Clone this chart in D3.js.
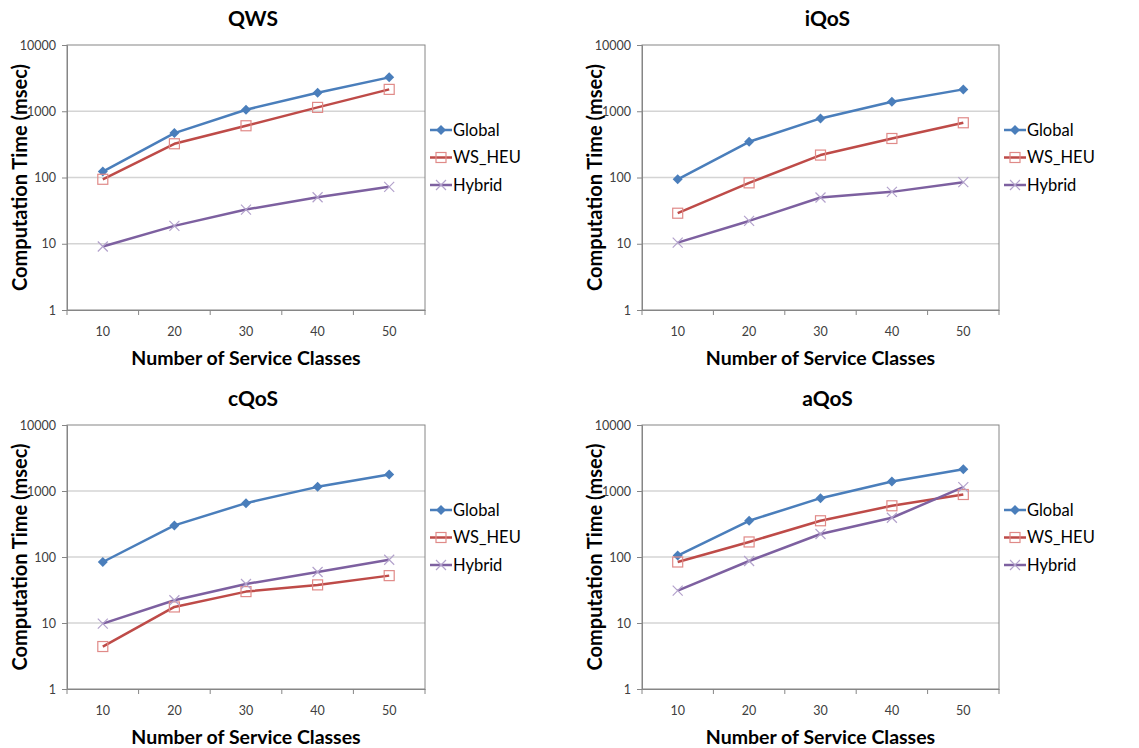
<!DOCTYPE html>
<html>
<head>
<meta charset="utf-8">
<script src="https://cdn.jsdelivr.net/npm/d3@7"></script>
<style>
  html, body { margin: 0; padding: 0; background: #fff; }
  svg { display: block; font-family: Lato, "Liberation Sans", sans-serif; }
</style>
</head>
<body>
<svg id="chart" width="1139" height="748"></svg>
<script>
// Computation time (msec) by number of service classes, four QoS datasets
const classes = ["10", "20", "30", "40", "50"];
const seriesNames = ["Global", "WS_HEU", "Hybrid"];
const datasetTitles = ["QWS", "iQoS", "cQoS", "aQoS"];
const yTicks = [1, 10, 100, 1000, 10000];

const qwsGlobal  = [123, 468, 1054, 1905, 3246];
const qwsWsHeu   = [94, 323, 604, 1143, 2138];
const qwsHybrid  = [9.1, 18.6, 32.8, 50.4, 72.3];

const iqosGlobal = [94, 346, 779, 1392, 2138];
const iqosWsHeu  = [28.9, 83, 218, 388, 670];
const iqosHybrid = [10.4, 22.1, 49.9, 60.7, 85];

const cqosGlobal = [84, 301, 655, 1156, 1775];
const cqosWsHeu  = [4.4, 17.5, 29.9, 37.8, 52.2];
const cqosHybrid = [9.8, 22.1, 39, 59.3, 91];

const aqosGlobal = [105, 354, 779, 1392, 2138];
const aqosWsHeu  = [84, 169, 354, 597, 885];
const aqosHybrid = [31, 87, 223, 393, 1143];

const datasets = [
  [qwsGlobal, qwsWsHeu, qwsHybrid],
  [iqosGlobal, iqosWsHeu, iqosHybrid],
  [cqosGlobal, cqosWsHeu, cqosHybrid],
  [aqosGlobal, aqosWsHeu, aqosHybrid]
];

const lineColors   = ["#4A7EBB", "#BE4B48", "#7D60A0"];
const markerColors = ["#4A7EBB", "#E08A88", "#B3A2CC"];

// plot-area rectangles for the 2x2 grid
const frames = [
  { x0: 67,  x1: 425, y0: 45,  y1: 310 },
  { x0: 642, x1: 999, y0: 45,  y1: 310 },
  { x0: 67,  x1: 425, y0: 425, y1: 689 },
  { x0: 642, x1: 999, y0: 425, y1: 689 }
];

const svg = d3.select("#chart");

function drawMarker(g, kind, cx, cy) {
  if (kind === 0) {
    g.append("path")
      .attr("d", `M${cx},${cy-5}L${cx+5},${cy}L${cx},${cy+5}L${cx-5},${cy}Z`)
      .attr("fill", markerColors[0]);
  } else if (kind === 1) {
    g.append("rect")
      .attr("x", cx - 5).attr("y", cy - 5)
      .attr("width", 10).attr("height", 10)
      .attr("fill", "none")
      .attr("stroke", markerColors[1]).attr("stroke-width", 1.2);
  } else {
    g.append("path")
      .attr("d", `M${cx-5},${cy-5}L${cx+5},${cy+5}M${cx-5},${cy+5}L${cx+5},${cy-5}`)
      .attr("stroke", markerColors[2]).attr("stroke-width", 1.2)
      .attr("fill", "none");
  }
}

datasets.forEach((series, i) => {
  const f = frames[i];
  const g = svg.append("g");

  const x = d3.scaleBand().domain(classes).range([f.x0, f.x1]);
  const y = d3.scaleLog().domain([1, 10000]).range([f.y1, f.y0]);

  // gridlines
  g.append("g").selectAll("line")
    .data(yTicks.filter(v => v > 1 && v < 10000))
    .join("line")
    .attr("x1", f.x0).attr("x2", f.x1)
    .attr("y1", d => y(d)).attr("y2", d => y(d))
    .attr("stroke", "#D4D4D4").attr("stroke-width", 1.5);

  // plot frame
  g.append("rect")
    .attr("x", f.x0).attr("y", f.y0)
    .attr("width", f.x1 - f.x0).attr("height", f.y1 - f.y0)
    .attr("fill", "none").attr("stroke", "#868686").attr("stroke-width", 1);

  // y axis
  const yAxis = g.append("g")
    .attr("transform", `translate(${f.x0},0)`)
    .call(d3.axisLeft(y).tickValues(yTicks).tickFormat(d3.format("d")).tickSize(5).tickPadding(6));
  yAxis.select(".domain").attr("stroke", "#868686");
  yAxis.selectAll(".tick line").attr("stroke", "#868686");
  yAxis.selectAll("text").attr("font-size", 12.5).attr("fill", "#404040")
    .attr("font-family", "Lato, sans-serif");

  // x axis: ticks sit on the category boundaries
  const xAxis = g.append("g")
    .attr("transform", `translate(0,${f.y1})`)
    .call(d3.axisBottom(x).tickSize(0).tickPadding(17));
  xAxis.select(".domain").attr("stroke", "#868686");
  xAxis.selectAll("text").attr("font-size", 12.5).attr("fill", "#404040")
    .attr("font-family", "Lato, sans-serif");
  const bounds = classes.map(c => x(c)).concat([f.x1]);
  g.append("g").selectAll("line").data(bounds).join("line")
    .attr("x1", d => d).attr("x2", d => d)
    .attr("y1", f.y1).attr("y2", f.y1 + 5)
    .attr("stroke", "#868686");

  // series lines and markers
  const line = d3.line()
    .x((d, j) => x(classes[j]) + x.bandwidth() / 2)
    .y(d => y(d));
  series.forEach((vals, s) => {
    g.append("path")
      .datum(vals)
      .attr("d", line)
      .attr("fill", "none")
      .attr("stroke", lineColors[s])
      .attr("stroke-width", 2.5)
      .attr("stroke-linejoin", "round");
  });
  series.forEach((vals, s) => {
    vals.forEach((v, j) => {
      drawMarker(g, s, x(classes[j]) + x.bandwidth() / 2, y(v));
    });
  });

  // title
  g.append("text")
    .attr("x", (f.x0 + f.x1) / 2 + 7).attr("y", f.y0 - 19)
    .attr("text-anchor", "middle")
    .attr("font-size", 21).attr("font-weight", "bold").attr("fill", "#000")
    .text(datasetTitles[i]);

  // axis titles
  g.append("text")
    .attr("transform", `translate(${f.x0 - 47},${(f.y0 + f.y1) / 2}) rotate(-90)`)
    .attr("text-anchor", "middle").attr("dy", "0.35em")
    .attr("font-size", 20).attr("font-weight", "bold").attr("fill", "#000")
    .text("Computation Time (msec)");
  g.append("text")
    .attr("x", (f.x0 + f.x1) / 2).attr("y", f.y1 + 55)
    .attr("text-anchor", "middle")
    .attr("font-size", 19.5).attr("font-weight", "bold").attr("fill", "#000")
    .text("Number of Service Classes");

  // legend
  const lg = g.append("g");
  seriesNames.forEach((name, s) => {
    const ly = f.y0 + 85 + s * 27.5;
    lg.append("line")
      .attr("x1", f.x1 + 5).attr("x2", f.x1 + 27)
      .attr("y1", ly).attr("y2", ly)
      .attr("stroke", lineColors[s]).attr("stroke-width", 2.5);
    drawMarker(lg, s, f.x1 + 16, ly);
    lg.append("text")
      .attr("x", f.x1 + 28).attr("y", ly).attr("dy", "0.35em")
      .attr("font-size", 16.5).attr("fill", "#000")
      .text(name);
  });
});
</script>
</body>
</html>
